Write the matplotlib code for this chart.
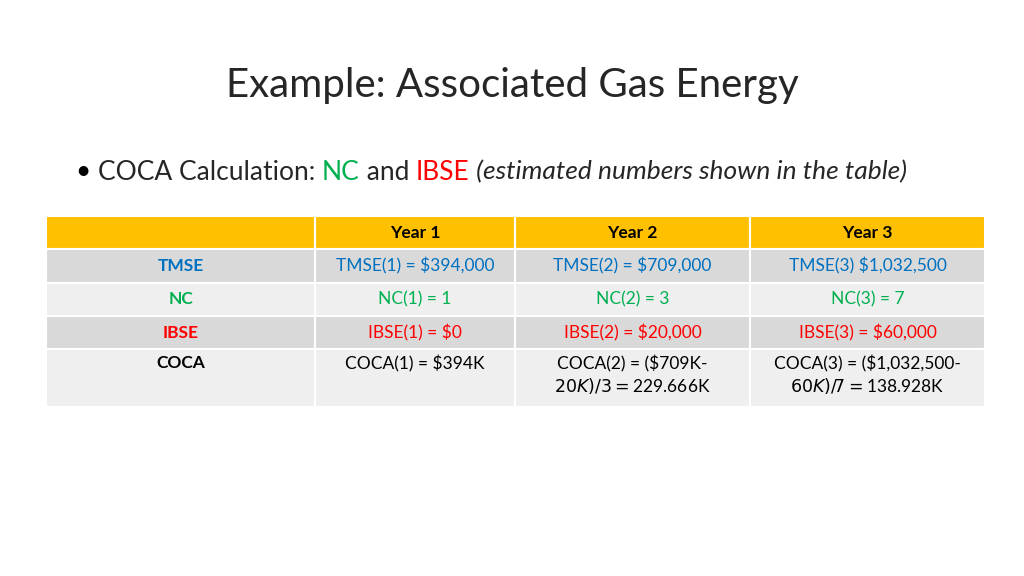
import matplotlib
matplotlib.use("Agg")
import matplotlib.pyplot as plt
from matplotlib.patches import Rectangle

title = "Example: Associated Gas Energy"
columns = ["", "Year 1", "Year 2", "Year 3"]
row_labels = ["TMSE", "NC", "IBSE", "COCA"]
row_colors = ["#0070C0", "#00B050", "#FF0000", "#000000"]
cells = [
    ["TMSE(1) = $394,000", "TMSE(2) = $709,000", "TMSE(3) $1,032,500"],
    ["NC(1) = 1", "NC(2) = 3", "NC(3) = 7"],
    ["IBSE(1) = $0", "IBSE(2) = $20,000", "IBSE(3) = $60,000"],
    ["COCA(1) = $394K", "COCA(2) = ($709K-\n$20K)/3 = $229.666K", "COCA(3) = ($1,032,500-\n$60K)/7 = $138.928K"],
]

FONT = "Lato"
fig = plt.figure(figsize=(10.24, 5.76), dpi=100)
ax = fig.add_axes([0, 0, 1, 1])
ax.set_xlim(0, 1024); ax.set_ylim(576, 0); ax.axis("off")

ax.text(512, 85, title, ha="center", va="center", fontsize=29, family=FONT, color="#262626")
ax.text(75, 172, "•", ha="left", va="center", fontsize=19, family=FONT)
x = 98
for s, c, st in [("COCA Calculation: ", "#262626", "normal"), ("NC", "#00B050", "normal"), (" and ", "#262626", "normal"),
                 ("IBSE", "#FF0000", "normal"), (" (estimated numbers shown in the table)", "#262626", "italic")]:
    t = ax.text(x, 172, s, ha="left", va="center", fontsize=19, family=FONT, color=c, style=st)
    fig.canvas.draw()
    bb = t.get_window_extent()
    x += bb.width

xs = [46, 315, 515, 750, 985]
ys = [216, 249, 283, 316, 349, 407]
fills = ["#FFC000", "#D9D9D9", "#EFEFEF", "#D9D9D9", "#EFEFEF"]
for r in range(5):
    for c in range(4):
        ax.add_patch(Rectangle((xs[c], ys[r]), xs[c+1]-xs[c], ys[r+1]-ys[r], facecolor=fills[r],
                               edgecolor="white", lw=1.5))
for c in range(4):
    ax.text((xs[c]+xs[c+1])/2, (ys[0]+ys[1])/2, columns[c], ha="center", va="center",
            fontsize=12.5, family=FONT, weight="bold", color="black")
for r in range(4):
    y0 = (ys[r+1]+ys[r+2])/2 if r < 3 else ys[r+1]+16
    va = "center" if r < 3 else "top"
    yy = y0 if r < 3 else ys[r+1]+6
    ax.text((xs[0]+xs[1])/2, yy, row_labels[r], ha="center", va=va, fontsize=12.5, family=FONT,
            weight="bold", color=row_colors[r])
    for c in range(3):
        ax.text((xs[c+1]+xs[c+2])/2, yy, cells[r][c], ha="center", va=va, fontsize=12.5, family=FONT,
                color=row_colors[r], linespacing=1.25)

fig.savefig("out.png", dpi=100)
